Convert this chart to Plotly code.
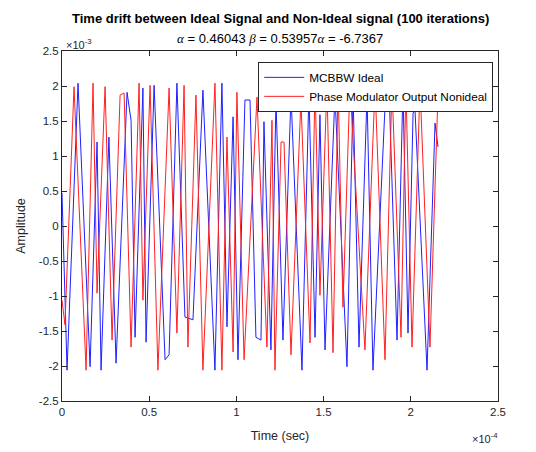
import plotly.graph_objects as go

# Time in units of 1e-4 s, amplitude in units of 1e-3
ideal_t_e4 = [0.0, 0.029, 0.092, 0.161, 0.201, 0.224, 0.269, 0.310, 0.373, 0.396, 0.419, 0.464, 0.482,
              0.528, 0.591, 0.614, 0.659, 0.705, 0.751, 0.808, 0.877, 0.917, 0.946, 0.981, 1.009, 1.049,
              1.078, 1.112, 1.141, 1.158, 1.198, 1.227, 1.267, 1.313, 1.376, 1.416, 1.451, 1.479, 1.508,
              1.565, 1.634, 1.669, 1.703, 1.749, 1.783, 1.852, 1.875, 1.921, 1.955, 1.984, 2.013, 2.024,
              2.093, 2.139, 2.156]
ideal_a_e3 = [0.47, -2.06, 2.04, -2.01, 1.20, -2.06, 1.27, -1.96, 1.91, 1.51, -1.59, 1.97, -1.66,
              2.01, -1.91, -1.84, 2.04, -1.30, -1.34, 1.94, -2.06, 2.04, -1.44, 1.56, -1.91, 1.80,
              1.80, -1.59, -1.63, 1.49, -1.77, 1.80, -1.63, 1.87, -2.06, 1.91, -1.59, 1.59, -1.77,
              1.87, -2.01, 1.87, -1.73, 1.87, -2.06, 1.70, 1.97, -1.63, 1.97, -1.53, 1.61, 1.66,
              -2.06, 1.47, 1.13]

nonideal_t_e4 = [0.0, 0.017, 0.069, 0.138, 0.178, 0.201, 0.247, 0.287, 0.333, 0.356, 0.396, 0.442, 0.464,
                 0.505, 0.550, 0.614, 0.659, 0.700, 0.722, 0.768, 0.808, 0.877, 0.917, 0.946, 0.981, 1.003,
                 1.044, 1.118, 1.175, 1.204, 1.221, 1.256, 1.273, 1.313, 1.370, 1.422, 1.451, 1.479, 1.519,
                 1.554, 1.583, 1.611, 1.651, 1.737, 1.795, 1.852, 1.892, 1.944, 1.972, 2.007, 2.053, 2.110,
                 2.156]
nonideal_a_e3 = [-1.06, -1.41, 1.99, -2.06, 2.04, -0.96, 1.99, -1.63, 1.87, 1.90, -1.73, 2.04, -1.06,
                 2.01, -2.06, 1.97, -1.53, 2.01, -1.73, 1.87, -2.06, 2.04, -2.06, 1.27, -1.80, 1.91,
                 -1.91, 1.84, -1.73, 1.51, -2.06, 1.20, 1.20, -1.84, 1.80, -1.67, 2.01, -0.99, 2.01,
                 -1.81, 2.01, -1.16, 2.01, -1.77, 2.01, -1.91, 2.01, -1.59, 2.01, -1.73, 2.01, -1.73,
                 1.90]

x_ticks_e4 = [0, 0.5, 1, 1.5, 2, 2.5]
y_ticks_e3 = [-2.5, -2, -1.5, -1, -0.5, 0, 0.5, 1, 1.5, 2, 2.5]

series_names = ["MCBBW Ideal", "Phase Modulator Output Nonideal"]

FONT = "Liberation Sans, Arial"

fig = go.Figure()
fig.add_trace(go.Scatter(x=[v * 1e-4 for v in ideal_t_e4], y=[v * 1e-3 for v in ideal_a_e3],
                         mode="lines", name=series_names[0],
                         line=dict(color="#1f1fff", width=1)))
fig.add_trace(go.Scatter(x=[v * 1e-4 for v in nonideal_t_e4], y=[v * 1e-3 for v in nonideal_a_e3],
                         mode="lines", name=series_names[1],
                         line=dict(color="#ff2020", width=1)))

axis_common = dict(showgrid=False, zeroline=False, showline=True, linecolor="#262626", linewidth=1,
                   mirror="ticks", ticks="inside", ticklen=5, tickcolor="#262626",
                   tickfont=dict(family=FONT, size=11.5, color="#262626"))

fig.update_xaxes(range=[0, 2.5e-4], tickvals=[v * 1e-4 for v in x_ticks_e4],
                 ticktext=[f"{v:g}" for v in x_ticks_e4],
                 title=dict(text="Time (sec)", font=dict(family=FONT, size=12.5, color="#262626"),
                            standoff=14),
                 **axis_common)
fig.update_yaxes(range=[-2.5e-3, 2.5e-3], tickvals=[v * 1e-3 for v in y_ticks_e3],
                 ticktext=[f"{v:g}" for v in y_ticks_e3],
                 title=dict(text="Amplitude", font=dict(family=FONT, size=12.5, color="#262626"),
                            standoff=10),
                 **axis_common)

fig.update_layout(
    width=536, height=452,
    margin=dict(l=62, r=38, t=51, b=51),
    plot_bgcolor="white", paper_bgcolor="white",
    showlegend=True,
    legend=dict(x=0.989, y=0.969, xanchor="right", yanchor="top",
                bgcolor="white", bordercolor="#262626", borderwidth=1,
                font=dict(family=FONT, size=11.8, color="#000000"),
                tracegroupgap=0, itemwidth=40),
    annotations=[
        dict(text="<b>Time drift between Ideal Signal and Non-Ideal signal (100 iterations)</b>",
             xref="paper", yref="paper", x=0.5, y=1, yshift=33, xanchor="center", yanchor="middle",
             showarrow=False, font=dict(family=FONT, size=13, color="#000000")),
        dict(text="<span style='font-family:Liberation Serif'><i>α</i></span> = 0.46043 "
                  "<span style='font-family:Liberation Serif'><i>β</i></span> = 0.53957"
                  "<span style='font-family:Liberation Serif'><i>α</i></span> = -6.7367",
             xref="paper", yref="paper", x=0.5, y=1, yshift=13, xanchor="center", yanchor="middle",
             showarrow=False, font=dict(family=FONT, size=13, color="#000000")),
        dict(text="×10<sup>-3</sup>", xref="paper", yref="paper", x=0, y=1, yshift=7, xshift=2,
             xanchor="left", yanchor="middle", showarrow=False,
             font=dict(family=FONT, size=11, color="#262626")),
        dict(text="×10<sup>-4</sup>", xref="paper", yref="paper", x=1, y=0, yshift=-37, xshift=2,
             xanchor="right", yanchor="middle", showarrow=False,
             font=dict(family=FONT, size=11, color="#262626")),
    ],
)

fig.write_html("out.html")
